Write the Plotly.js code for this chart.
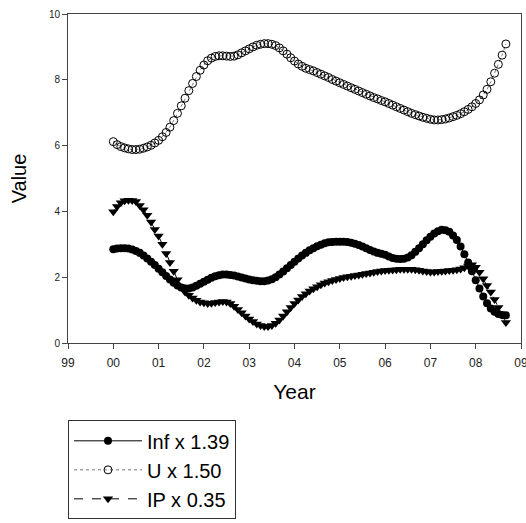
<!DOCTYPE html>
<html>
<head>
<meta charset="utf-8">
<script src="https://cdn.plot.ly/plotly-3.0.1.min.js"></script>
<style>html,body{margin:0;padding:0;background:#fff;}#chart{width:526px;height:523px;}</style>
</head>
<body>
<div id="chart"></div>
<script>
// Monthly observations, Jan 2000 .. Sep 2008
const startYear = 2000;
const xTickVals = [1999, 2000, 2001, 2002, 2003, 2004, 2005, 2006, 2007, 2008, 2009];
const xTickText = ["99", "00", "01", "02", "03", "04", "05", "06", "07", "08", "09"];

const infScaled = [
  2.85, 2.87, 2.88, 2.88, 2.87, 2.84, 2.80, 2.74, 2.66, 2.57, 2.47, 2.37,
  2.26, 2.15, 2.04, 1.93, 1.83, 1.75, 1.69, 1.66, 1.66, 1.69, 1.74, 1.80,
  1.86, 1.92, 1.98, 2.03, 2.06, 2.08, 2.08, 2.07, 2.05, 2.02, 1.99, 1.96,
  1.93, 1.91, 1.89, 1.88, 1.88, 1.90, 1.94, 2.00, 2.08, 2.17, 2.27, 2.37,
  2.47, 2.57, 2.66, 2.74, 2.82, 2.88, 2.94, 2.99, 3.03, 3.06, 3.07, 3.08,
  3.08, 3.08, 3.07, 3.05, 3.02, 2.98, 2.93, 2.88, 2.83, 2.78, 2.74, 2.71,
  2.68, 2.63, 2.58, 2.56, 2.55, 2.56, 2.60, 2.67, 2.77, 2.88, 3.00, 3.12,
  3.23, 3.33, 3.40, 3.44, 3.43, 3.38, 3.27, 3.13, 2.93, 2.70, 2.45, 2.18,
  1.91, 1.66, 1.41, 1.21, 1.05, 0.95, 0.88, 0.85, 0.84
];

const uScaled = [
  6.12, 6.03, 5.97, 5.93, 5.90, 5.88, 5.88, 5.89, 5.92, 5.96, 6.01, 6.08,
  6.16, 6.27, 6.40, 6.56, 6.76, 6.98, 7.21, 7.44, 7.67, 7.89, 8.10, 8.29,
  8.45, 8.58, 8.66, 8.71, 8.73, 8.73, 8.72, 8.71, 8.72, 8.76, 8.82, 8.88,
  8.94, 9.00, 9.05, 9.08, 9.10, 9.10, 9.08, 9.04, 8.97, 8.88, 8.78, 8.67,
  8.57, 8.48, 8.41, 8.35, 8.31, 8.27, 8.22, 8.17, 8.12, 8.07, 8.01, 7.96,
  7.91, 7.86, 7.81, 7.76, 7.71, 7.66, 7.61, 7.56, 7.51, 7.46, 7.42, 7.37,
  7.33, 7.28, 7.23, 7.18, 7.13, 7.08, 7.03, 6.98, 6.94, 6.90, 6.86, 6.83,
  6.80, 6.78, 6.78, 6.79, 6.81, 6.84, 6.88, 6.92, 6.97, 7.03, 7.10, 7.18,
  7.28, 7.39, 7.54, 7.71, 7.94, 8.20, 8.47, 8.75, 9.09
];

const ipScaled = [
  3.99, 4.15, 4.26, 4.32, 4.34, 4.33, 4.30, 4.18, 4.05, 3.88, 3.68, 3.45,
  3.25, 3.00, 2.72, 2.45, 2.18, 1.92, 1.70, 1.55, 1.45, 1.37, 1.30, 1.25,
  1.22, 1.20, 1.21, 1.23, 1.25, 1.26, 1.25, 1.20, 1.12, 1.02, 0.92, 0.82,
  0.73, 0.65, 0.58, 0.53, 0.50, 0.50, 0.53, 0.60, 0.70, 0.82, 0.95, 1.08,
  1.20, 1.31, 1.41, 1.50, 1.58, 1.65, 1.71, 1.77, 1.82, 1.86, 1.90, 1.93,
  1.96, 1.99, 2.01, 2.03, 2.05, 2.07, 2.09, 2.11, 2.13, 2.15, 2.17, 2.19,
  2.20, 2.21, 2.22, 2.23, 2.24, 2.24, 2.24, 2.24, 2.23, 2.21, 2.19, 2.17,
  2.16, 2.16, 2.17, 2.18, 2.19, 2.20, 2.21, 2.23, 2.25, 2.29, 2.34, 2.38,
  2.30, 2.15, 1.95, 1.75, 1.55, 1.32, 1.08, 0.85, 0.62
];

const seriesNames = ["Inf x 1.39", "U x 1.50", "IP x 0.35"];

const months = infScaled.map((_, i) => startYear + i / 12);

const traces = [
  {
    x: months, y: infScaled, name: seriesNames[0], type: "scatter", mode: "lines+markers",
    line: {color: "#000", width: 1, dash: "solid"},
    marker: {symbol: "circle", size: 8, color: "#000"}
  },
  {
    x: months, y: uScaled, name: seriesNames[1], type: "scatter", mode: "lines+markers",
    line: {color: "#777", width: 1, dash: "dot"},
    marker: {symbol: "circle-open", size: 8, color: "#000", line: {width: 1, color: "#222"}}
  },
  {
    x: months, y: ipScaled, name: seriesNames[2], type: "scatter", mode: "lines+markers",
    line: {color: "#000", width: 1, dash: "dash"},
    marker: {symbol: "triangle-down", size: 9, color: "#000"}
  }
];

const layout = {
  width: 526, height: 523,
  margin: {l: 68, r: 5, t: 14, b: 180, autoexpand: false},
  paper_bgcolor: "#fff", plot_bgcolor: "#fff",
  font: {family: "Liberation Sans, Arial, sans-serif", color: "#000"},
  showlegend: true,
  legend: {
    x: 0, xanchor: "left", y: -0.235, yanchor: "top",
    bordercolor: "#333", borderwidth: 1, bgcolor: "#fff",
    font: {size: 20, color: "#000"}, itemwidth: 68, tracegroupgap: 0
  },
  xaxis: {
    range: [1999, 2009], tickvals: xTickVals, ticktext: xTickText,
    showgrid: false, zeroline: false, showline: true, linecolor: "#444", linewidth: 1,
    mirror: true, ticks: "outside", ticklen: 5, tickcolor: "#444",
    ticklabelstandoff: 4, ticklabeloverflow: "allow",
    tickfont: {size: 12, color: "#222"},
    title: {text: "Year", font: {size: 21, color: "#000"}, standoff: 14}
  },
  yaxis: {
    range: [0, 10], dtick: 2, tick0: 0,
    showgrid: false, zeroline: false, showline: true, linecolor: "#444", linewidth: 1,
    mirror: true, ticks: "outside", ticklen: 5, tickcolor: "#444",
    tickfont: {size: 10, color: "#222"},
    title: {text: "Value", font: {size: 20, color: "#000"}, standoff: 16}
  }
};

Plotly.newPlot("chart", traces, layout, {displayModeBar: false, staticPlot: true});
</script>
</body>
</html>
